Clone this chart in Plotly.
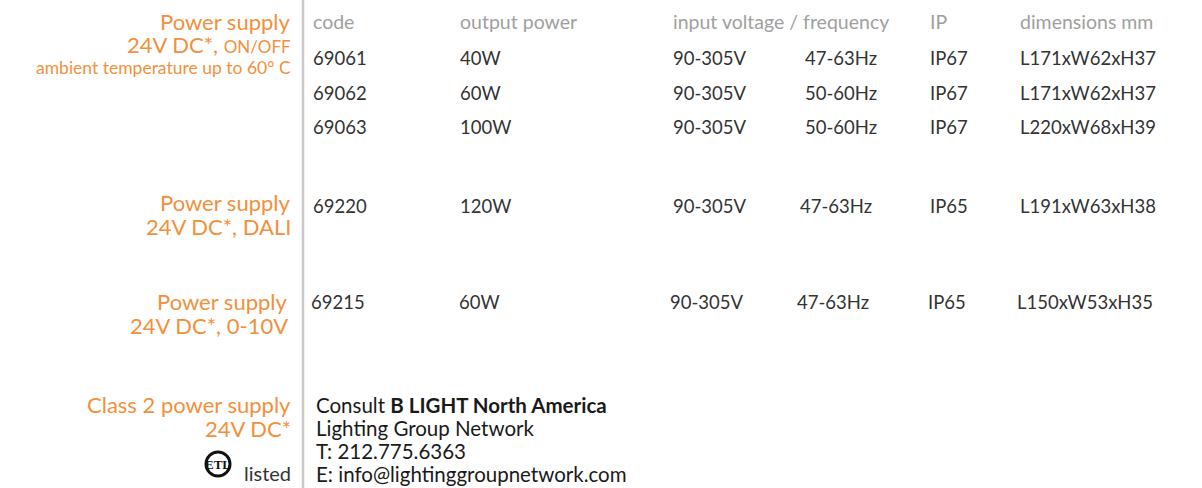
import plotly.graph_objects as go

# ---- data ----
headers = ["code", "output power", "input voltage / frequency", "IP", "dimensions mm"]
codes = ["69061", "69062", "69063", "69220", "69215"]
powers = ["40W", "60W", "100W", "120W", "60W"]
voltages = ["90-305V", "90-305V", "90-305V", "90-305V", "90-305V"]
freqs = ["47-63Hz", "50-60Hz", "50-60Hz", "47-63Hz", "47-63Hz"]
ips = ["IP67", "IP67", "IP67", "IP65", "IP65"]
dims = ["L171xW62xH37", "L171xW62xH37", "L220xW68xH39", "L191xW63xH38", "L150xW53xH35"]

group_titles = [
    ["Power supply", "24V DC*, <span style='font-size:17px'>ON/OFF</span>",
     "<span style='font-size:17.5px'>ambient temperature up to 60° C</span>"],
    ["Power supply", "24V DC*, DALI"],
    ["Power supply", "24V DC*, 0-10V"],
    ["Class 2 power supply", "24V DC*"],
]
contact = ["Consult <b>B LIGHT North America</b>", "Lighting Group Network",
           "T: 212.775.6363", "E: info@lightinggroupnetwork.com"]

# ---- layout positions (pixels) ----
W, H = 1202, 488
header_x = [313, 460, 673, 930, 1020]
header_y = 21
row_y = [58, 93, 127, 206, 302]
col_x = [
    [313, 460, 673, 805, 930, 1020],
    [313, 460, 673, 805, 930, 1020],
    [313, 460, 673, 805, 930, 1020],
    [313, 460, 673, 800, 930, 1020],
    [311, 459, 670, 797, 928, 1017],
]
group_y = [[21, 44, 67], [202, 226], [301, 325], [404, 428]]
group_right = [291, 291, 288, 291]
contact_x = 316
contact_y = [405, 428, 451, 474]

FONT = "Lato"
ORANGE = "#f3903c"
DARK = "#333333"
GREY = "#a0a0a0"

fig = go.Figure()
fig.add_trace(go.Scatter(x=[0, W], y=[0, H], mode="markers",
                         marker=dict(opacity=0), hoverinfo="skip", showlegend=False))

ann = []
for t, x in zip(headers, header_x):
    ann.append(dict(x=x, y=header_y, text=t, xanchor="left", yanchor="middle",
                    font=dict(family=FONT, size=19.5, color=GREY)))

for i in range(len(codes)):
    vals = [codes[i], powers[i], voltages[i], freqs[i], ips[i], dims[i]]
    for v, x in zip(vals, col_x[i]):
        ann.append(dict(x=x, y=row_y[i], text=v, xanchor="left", yanchor="middle",
                        font=dict(family=FONT, size=18.5, color=DARK)))

for lines, ys, xr in zip(group_titles, group_y, group_right):
    for t, y in zip(lines, ys):
        ann.append(dict(x=xr, y=y, text=t, xanchor="right", yanchor="middle",
                        font=dict(family=FONT, size=22, color=ORANGE)))

for t, y in zip(contact, contact_y):
    ann.append(dict(x=contact_x, y=y, text=t, xanchor="left", yanchor="middle",
                    font=dict(family=FONT, size=20.5, color="#1a1a1a")))

# "listed" with ETL mark
ann.append(dict(x=291, y=473, text="listed", xanchor="right", yanchor="middle",
                font=dict(family=FONT, size=20, color="#333333")))
ann.append(dict(x=218, y=464, text="<b>ETL</b>", xanchor="center", yanchor="middle",
                font=dict(family="Liberation Sans Narrow", size=13, color="#111111")))

for a in ann:
    a.update(xref="x", yref="y", showarrow=False, borderpad=0, borderwidth=0)

shapes = [
    dict(type="line", x0=303, x1=303, y0=0, y1=H, xref="x", yref="y",
         line=dict(color="#c9c9c9", width=2.5)),
    dict(type="circle", x0=206, x1=230, y0=452, y1=476, xref="x", yref="y",
         line=dict(color="#111111", width=3)),
]

fig.update_layout(
    width=W, height=H, margin=dict(l=0, r=0, t=0, b=0),
    paper_bgcolor="white", plot_bgcolor="white",
    xaxis=dict(range=[0, W], visible=False, fixedrange=True),
    yaxis=dict(range=[H, 0], visible=False, fixedrange=True),
    annotations=ann, shapes=shapes, showlegend=False,
)
fig.write_html("out.html", config={"displayModeBar": False},
               post_script="document.body.style.margin='0';document.body.style.overflow='hidden';")
